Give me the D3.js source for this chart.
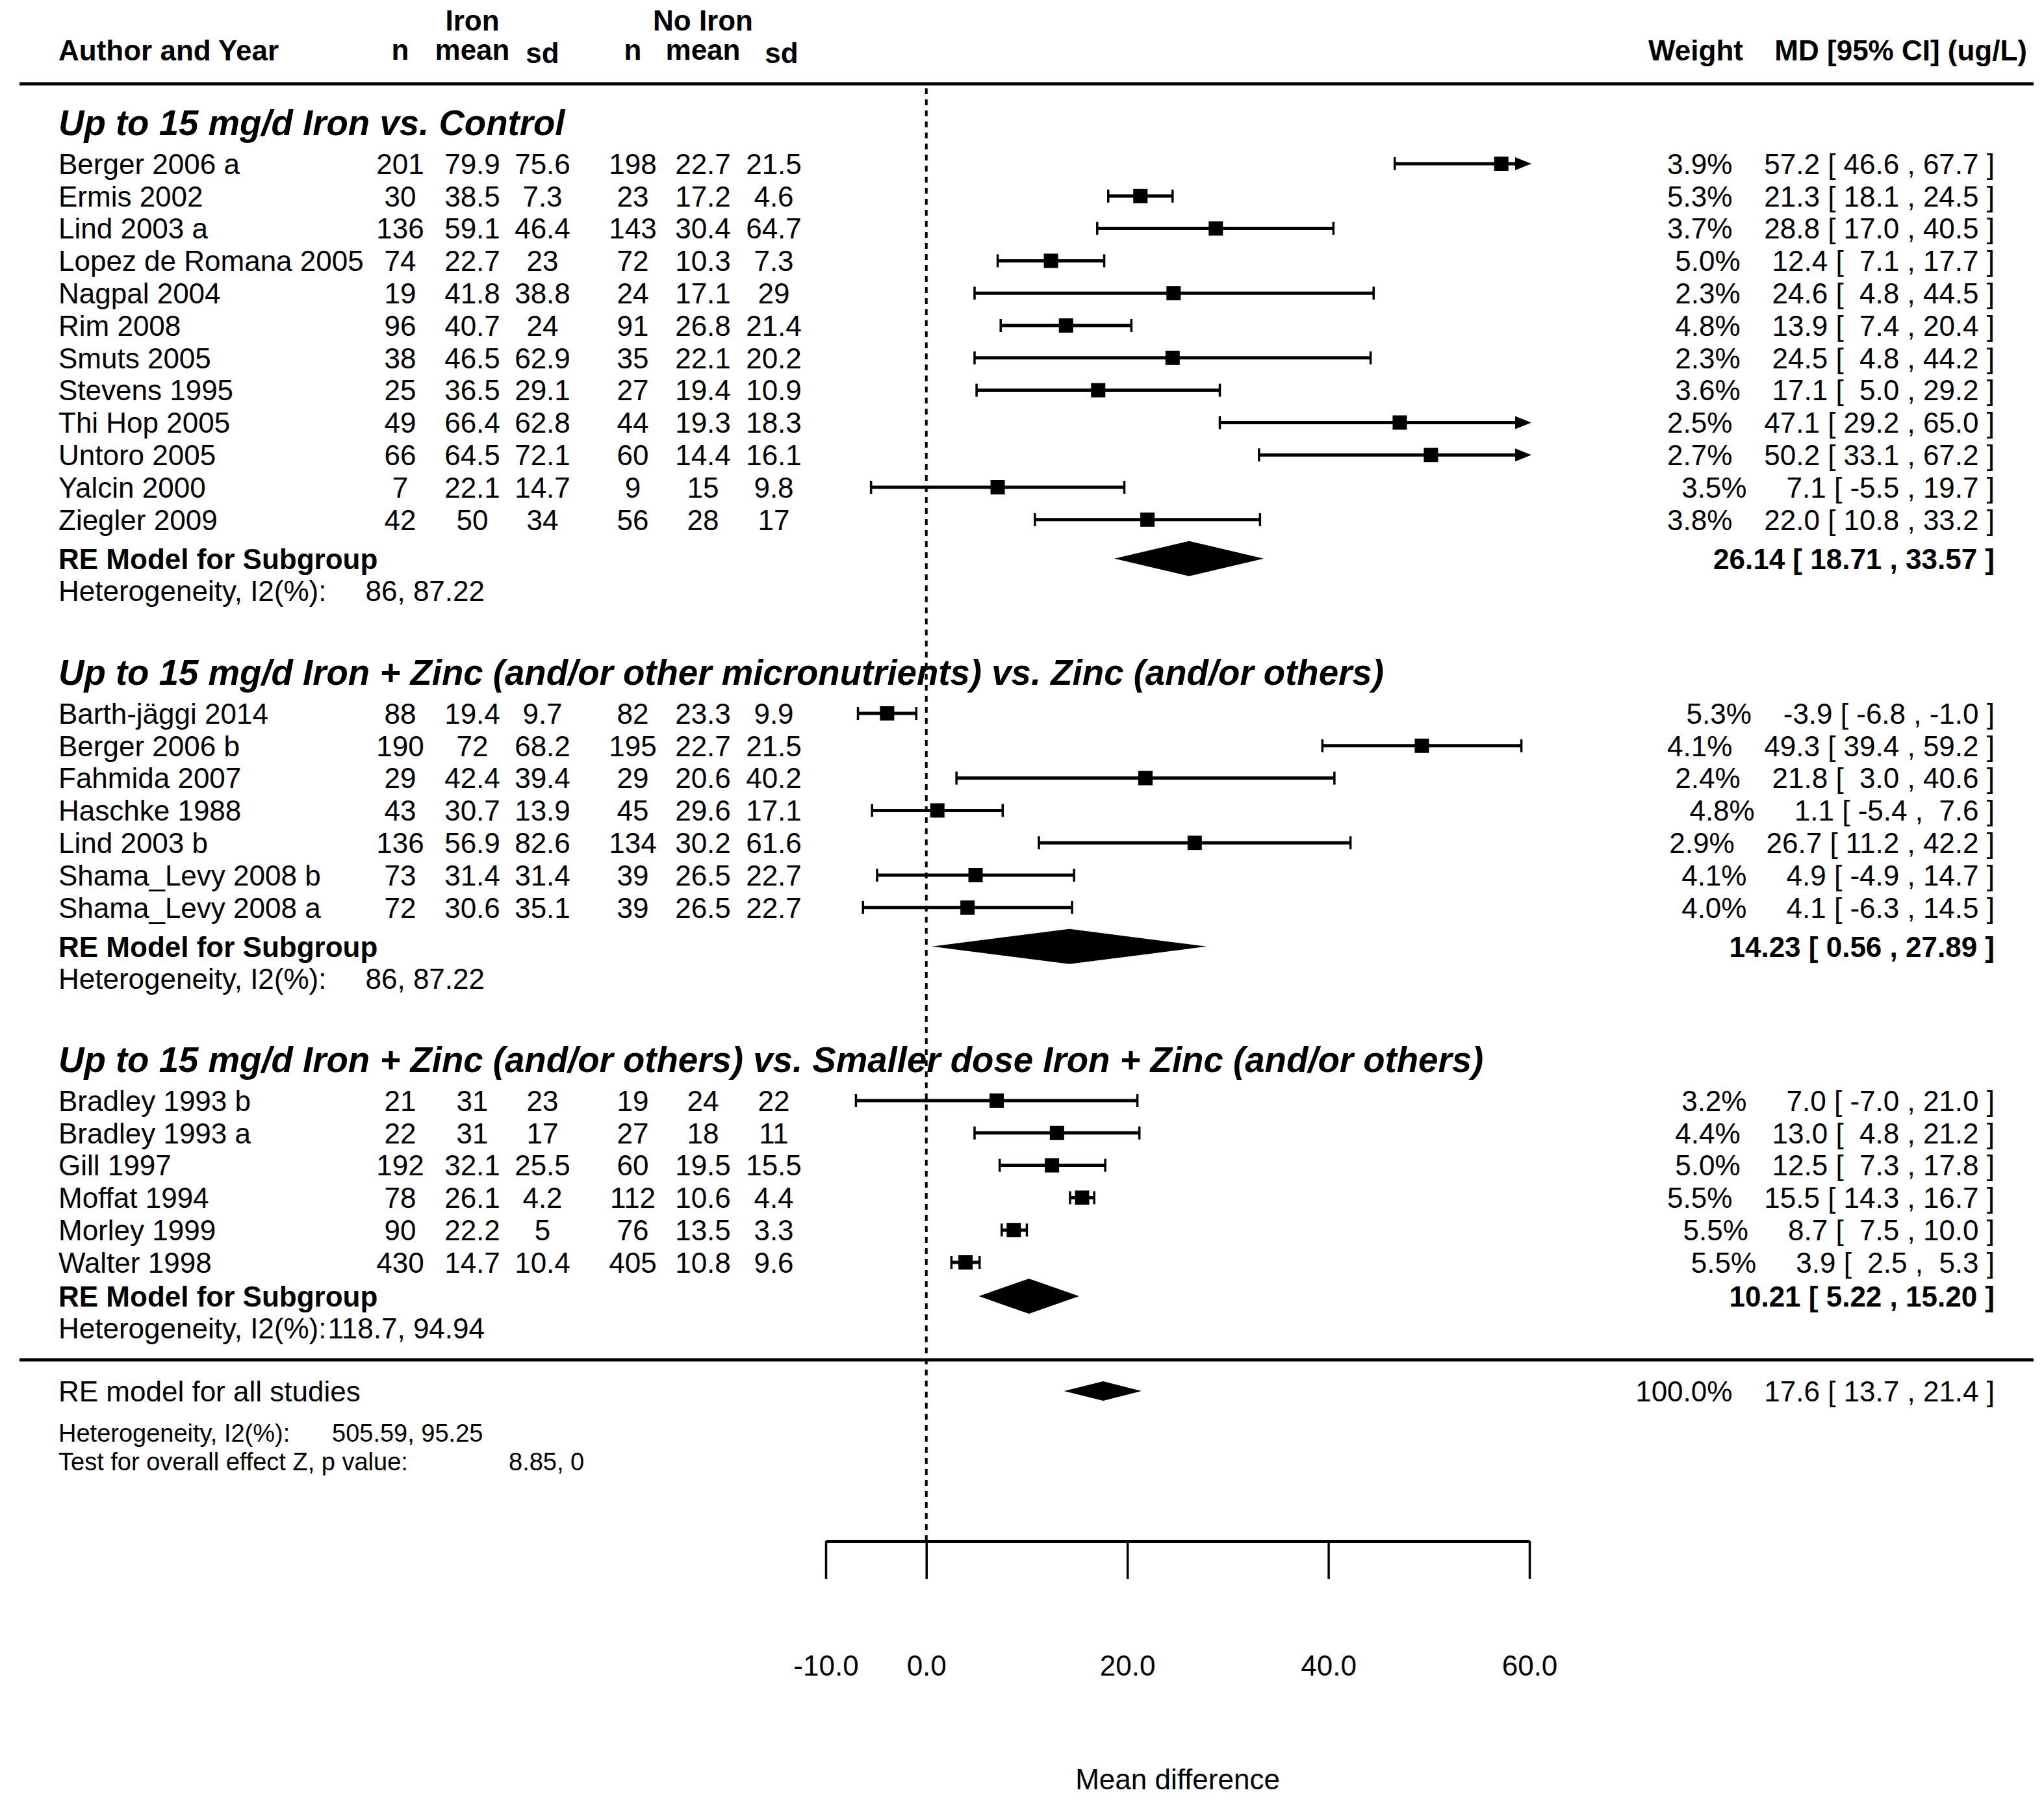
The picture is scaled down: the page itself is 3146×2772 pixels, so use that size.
<!DOCTYPE html>
<html><head><meta charset="utf-8">
<script src="https://cdn.jsdelivr.net/npm/d3@7"></script>
<style>
body{margin:0;background:#fff}
text{font-family:"Liberation Sans",Arial,Helvetica,sans-serif;fill:#000;white-space:pre}
</style>
</head><body>
<svg id="chart" width="3146" height="2772"></svg>
<script>
// ---------------- DATA ----------------
const groupTitles = [
  "Up to 15 mg/d Iron vs. Control",
  "Up to 15 mg/d Iron + Zinc (and/or other micronutrients) vs. Zinc (and/or others)",
  "Up to 15 mg/d Iron + Zinc (and/or others) vs. Smaller dose Iron + Zinc (and/or others)"
];
const studyNames = [
  "Berger 2006 a","Ermis 2002","Lind 2003 a","Lopez de Romana 2005","Nagpal 2004","Rim 2008",
  "Smuts 2005","Stevens 1995","Thi Hop 2005","Untoro 2005","Yalcin 2000","Ziegler 2009",
  "Barth-jäggi 2014","Berger 2006 b","Fahmida 2007","Haschke 1988","Lind 2003 b",
  "Shama_Levy 2008 b","Shama_Levy 2008 a",
  "Bradley 1993 b","Bradley 1993 a","Gill 1997","Moffat 1994","Morley 1999","Walter 1998"
];
const studyGroup = [0,0,0,0,0,0,0,0,0,0,0,0, 1,1,1,1,1,1,1, 2,2,2,2,2,2];
const ironN    = [201,30,136,74,19,96,38,25,49,66,7,42, 88,190,29,43,136,73,72, 21,22,192,78,90,430];
const ironMean = [79.9,38.5,59.1,22.7,41.8,40.7,46.5,36.5,66.4,64.5,22.1,50, 19.4,72,42.4,30.7,56.9,31.4,30.6, 31,31,32.1,26.1,22.2,14.7];
const ironSd   = [75.6,7.3,46.4,23,38.8,24,62.9,29.1,62.8,72.1,14.7,34, 9.7,68.2,39.4,13.9,82.6,31.4,35.1, 23,17,25.5,4.2,5,10.4];
const ctrlN    = [198,23,143,72,24,91,35,27,44,60,9,56, 82,195,29,45,134,39,39, 19,27,60,112,76,405];
const ctrlMean = [22.7,17.2,30.4,10.3,17.1,26.8,22.1,19.4,19.3,14.4,15,28, 23.3,22.7,20.6,29.6,30.2,26.5,26.5, 24,18,19.5,10.6,13.5,10.8];
const ctrlSd   = [21.5,4.6,64.7,7.3,29,21.4,20.2,10.9,18.3,16.1,9.8,17, 9.9,21.5,40.2,17.1,61.6,22.7,22.7, 22,11,15.5,4.4,3.3,9.6];
const weights  = [3.9,5.3,3.7,5.0,2.3,4.8,2.3,3.6,2.5,2.7,3.5,3.8, 5.3,4.1,2.4,4.8,2.9,4.1,4.0, 3.2,4.4,5.0,5.5,5.5,5.5];
const md       = [57.2,21.3,28.8,12.4,24.6,13.9,24.5,17.1,47.1,50.2,7.1,22.0, -3.9,49.3,21.8,1.1,26.7,4.9,4.1, 7.0,13.0,12.5,15.5,8.7,3.9];
const ciLow    = [46.6,18.1,17.0,7.1,4.8,7.4,4.8,5.0,29.2,33.1,-5.5,10.8, -6.8,39.4,3.0,-5.4,11.2,-4.9,-6.3, -7.0,4.8,7.3,14.3,7.5,2.5];
const ciHigh   = [67.7,24.5,40.5,17.7,44.5,20.4,44.2,29.2,65.0,67.2,19.7,33.2, -1.0,59.2,40.6,7.6,42.2,14.7,14.5, 21.0,21.2,17.8,16.7,10.0,5.3];
const groupRE     = [26.14,14.23,10.21];
const groupRELow  = [18.71,0.56,5.22];
const groupREHigh = [33.57,27.89,15.20];
const groupHetQ   = ["86","86","118.7"];
const groupHetI2  = ["87.22","87.22","94.94"];
const overallWeight = 100.0;
const overallMD = [17.6,13.7,21.4];
const overallHet = ["505.59","95.25"];
const overallZ = ["8.85","0"];
const axisTicks = [-10,0,20,40,60];

// ---------------- LAYOUT ----------------
const svg = d3.select("#chart");
const FONT = 44;
const x = d3.scaleLinear().domain([-10,60]).range([1271,2354]);
const xLeft = 90;
const colX = {nI:616, mI:727, sI:835, nC:974, mC:1082, sC:1191};
const rightX = 3070;
const titleY = [188,1034,1630];
const pitch = 49.8, firstOff = 64, reOff = [60,60,52], hetOff = 49;
const axisY = 2372;

function txt(xp, yc, s, opt={}){
  const size = opt.size || FONT;
  return svg.append("text")
    .attr("x", xp).attr("y", yc + 0.36*size)
    .attr("font-size", size)
    .attr("text-anchor", opt.anchor || "start")
    .attr("font-weight", opt.bold ? "bold" : "normal")
    .attr("font-style", opt.italic ? "italic" : "normal")
    .text(s);
}
const pad = (s,w)=> String(s).padStart(w," ");
const f1 = v => v.toFixed(1);
const mdString = (e,l,h)=> `${pad(f1(e),4)} [ ${pad(f1(l),4)} , ${pad(f1(h),4)} ]`;

// rows
const rows = studyNames.map((name,i)=>({i,name,g:studyGroup[i]}));
const groupInfo = groupTitles.map((t,gi)=>{
  const members = rows.filter(r=>r.g===gi);
  members.forEach((r,k)=> r.y = titleY[gi] + firstOff + k*pitch);
  const reY = members[members.length-1].y + reOff[gi];
  return {t, gi, reY, hetY: reY + hetOff};
});

// header
svg.append("text").attr("x",xLeft).attr("y",93).attr("font-size",FONT).attr("font-weight","bold").text("Author and Year");
[["Iron",colX.mI,47],["No Iron",colX.mC,47],["n",colX.nI,92],["mean",colX.mI,92],["sd",colX.sI,97],
 ["n",colX.nC,92],["mean",colX.mC,92],["sd",1203,97],["Weight",2610,93]].forEach(d=>{
  svg.append("text").attr("x",d[1]).attr("y",d[2]).attr("font-size",FONT).attr("font-weight","bold")
    .attr("text-anchor","middle").text(d[0]);
});
svg.append("text").attr("x",3120).attr("y",93).attr("font-size",FONT).attr("font-weight","bold")
  .attr("text-anchor","end").text("MD [95% CI] (ug/L)");

// separators
svg.append("line").attr("x1",30).attr("x2",3130).attr("y1",129).attr("y2",129).attr("stroke","#000").attr("stroke-width",5);
svg.append("line").attr("x1",30).attr("x2",3130).attr("y1",2093).attr("y2",2093).attr("stroke","#000").attr("stroke-width",5);

// reference dotted line
svg.append("line").attr("x1",x(0)).attr("x2",x(0)).attr("y1",136).attr("y2",axisY)
  .attr("stroke","#000").attr("stroke-width",4).attr("stroke-dasharray","9,8");

// groups
groupInfo.forEach(g=>{
  txt(xLeft, titleY[g.gi], g.t, {bold:true, italic:true, size:54.6});
  txt(xLeft, g.reY, "RE Model for Subgroup", {bold:true});
  txt(xLeft, g.hetY, "Heterogeneity, I2(%):");
  txt(746, g.hetY, `${groupHetQ[g.gi]}, ${groupHetI2[g.gi]}`, {anchor:"end"});
  const lo = groupRELow[g.gi], hi = groupREHigh[g.gi], e = groupRE[g.gi];
  svg.append("path").attr("fill","#000")
    .attr("d", `M${x(lo)},${g.reY}L${x(e)},${g.reY-27}L${x(hi)},${g.reY}L${x(e)},${g.reY+27}Z`);
  txt(rightX, g.reY, `${e.toFixed(2)} [ ${lo.toFixed(2)} , ${hi.toFixed(2)} ]`, {anchor:"end", bold:true});
});

// study rows
rows.forEach(r=>{
  const i = r.i, y = r.y;
  txt(xLeft, y, r.name);
  [[ironN,colX.nI],[ironMean,colX.mI],[ironSd,colX.sI],[ctrlN,colX.nC],[ctrlMean,colX.mC],[ctrlSd,colX.sC]]
    .forEach(([arr,cx])=> txt(cx, y, String(arr[i]), {anchor:"middle"}));
  txt(rightX, y, `${f1(weights[i])}%    ${mdString(md[i],ciLow[i],ciHigh[i])}`, {anchor:"end"});
  const lo = Math.max(ciLow[i], -10), hiClip = ciHigh[i] > 60;
  const hi = hiClip ? 60 : ciHigh[i];
  const g = svg.append("g").attr("stroke","#000").attr("stroke-width",5);
  g.append("line").attr("x1",x(lo)).attr("x2",hiClip ? x(hi)-12 : x(hi)).attr("y1",y).attr("y2",y);
  g.append("line").attr("x1",x(lo)).attr("x2",x(lo)).attr("y1",y-10).attr("y2",y+10).attr("stroke-width",3.5);
  if(!hiClip){
    g.append("line").attr("x1",x(hi)).attr("x2",x(hi)).attr("y1",y-10).attr("y2",y+10).attr("stroke-width",3.5);
  } else {
    svg.append("path").attr("fill","#000")
      .attr("d",`M${x(hi)+3},${y}L${x(hi)-22},${y-10}L${x(hi)-22},${y+10}Z`);
  }
  svg.append("rect").attr("x",x(md[i])-11).attr("y",y-11).attr("width",22).attr("height",22).attr("fill","#000");
});

// overall
const oY = 2141;
txt(xLeft, oY, "RE model for all studies");
svg.append("path").attr("fill","#000")
  .attr("d",`M${x(overallMD[1])},${oY}L${x(overallMD[0])},${oY-15}L${x(overallMD[2])},${oY}L${x(overallMD[0])},${oY+15}Z`);
txt(rightX, oY, `${f1(overallWeight)}%    ${mdString(overallMD[0],overallMD[1],overallMD[2])}`, {anchor:"end"});
txt(xLeft, 2205, "Heterogeneity, I2(%):", {size:38});
txt(511, 2205, `${overallHet[0]}, ${overallHet[1]}`, {size:38});
txt(xLeft, 2249, "Test for overall effect Z, p value:", {size:38});
txt(783, 2249, `${overallZ[0]}, ${overallZ[1]}`, {size:38});

// axis
const axis = d3.axisBottom(x).tickValues(axisTicks).tickSize(58).tickSizeOuter(0).tickPadding(118)
  .tickFormat(d=>d.toFixed(1));
const ag = svg.append("g").attr("transform",`translate(0,${axisY})`).call(axis);
ag.select(".domain").attr("stroke","#000").attr("stroke-width",5);
ag.selectAll(".tick line").attr("stroke","#000").attr("stroke-width",3.5);
ag.selectAll(".tick text").attr("font-size",FONT).attr("font-family","Liberation Sans, Arial, sans-serif").attr("fill","#000");
txt((x(-10)+x(60))/2, 2738, "Mean difference", {anchor:"middle"});
</script>
</body></html>
